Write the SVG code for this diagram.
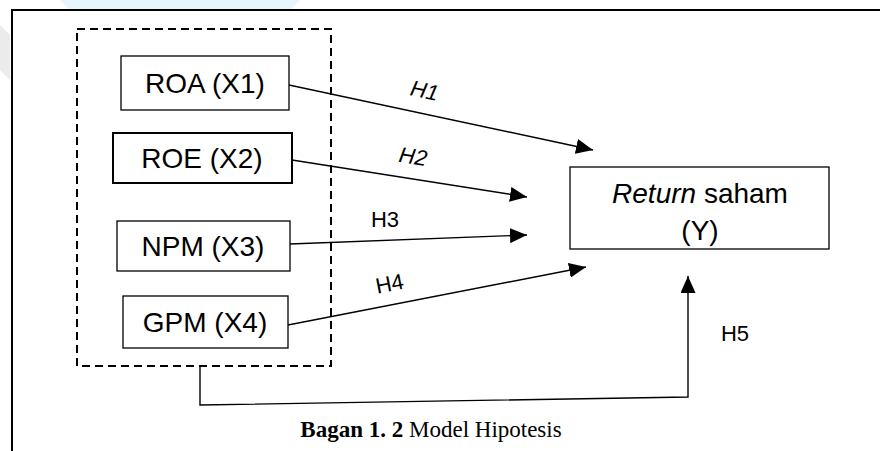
<svg xmlns="http://www.w3.org/2000/svg" width="880" height="451" viewBox="0 0 880 451">
<style>
.box{fill:#fff;stroke:#000;stroke-width:1.3}
.t{font-family:"Liberation Sans",Arial,sans-serif;font-size:28px;fill:#000;text-anchor:middle}
.lbl{font-family:"Liberation Sans",Arial,sans-serif;font-size:22px;fill:#000;text-anchor:middle}
.con{fill:none;stroke:#000;stroke-width:1.4}
.cap{font-family:"Liberation Serif","Times New Roman",serif;font-size:23px;fill:#000;text-anchor:middle}
</style>
<defs>
<marker id="ah" markerUnits="userSpaceOnUse" markerWidth="18" markerHeight="15" refX="17" refY="7.5" orient="auto">
<path d="M0,0 L17,7.5 L0,15 Z" fill="#000"/>
</marker>
</defs>
<rect width="880" height="451" fill="#fff"/>
<g id="watermark" opacity="0.5">
<path d="M60,0 L300,0 L290,10 L70,10 Z" fill="#cfeefa"/>
<path d="M0,25 L10,35 L10,80 L0,70 Z" fill="#d8d8d8"/>
</g>
<g id="frame">
<line x1="11" y1="10" x2="880" y2="10" stroke="#000" stroke-width="2.2"/>
<line x1="12" y1="10" x2="12" y2="451" stroke="#000" stroke-width="2"/>
</g>
<g id="group-x">
<rect x="77" y="29" width="254" height="337" fill="none" stroke="#000" stroke-width="2" stroke-dasharray="8,5"/>
</g>
<g id="roa"><rect class="box" x="121" y="56" width="168" height="54"/><text class="t" x="205" y="93">ROA (X1)</text></g>
<g id="roe"><rect class="box" x="113" y="133" width="179" height="50" style="stroke-width:2"/><text class="t" x="202" y="168">ROE (X2)</text></g>
<g id="npm"><rect class="box" x="117" y="221" width="173" height="50"/><text class="t" x="203" y="256">NPM (X3)</text></g>
<g id="gpm"><rect class="box" x="123" y="296" width="165" height="52"/><text class="t" x="205" y="332">GPM (X4)</text></g>
<g id="return"><rect class="box" x="570" y="167" width="259" height="82"/><text class="t" x="700" y="203"><tspan font-style="italic">Return</tspan> saham</text><text class="t" x="700" y="240">(Y)</text></g>
<g id="connectors">
<line class="con" x1="289" y1="85" x2="593" y2="150" marker-end="url(#ah)"/>
<line class="con" x1="292" y1="160" x2="527" y2="197" marker-end="url(#ah)"/>
<line class="con" x1="290" y1="244" x2="527" y2="235" marker-end="url(#ah)"/>
<line class="con" x1="288" y1="325" x2="586" y2="267" marker-end="url(#ah)"/>
<polyline class="con" points="200,366 200,405 688,397 688,276" marker-end="url(#ah)"/>
<text class="lbl" font-style="italic" transform="translate(423,98) rotate(12)">H1</text>
<text class="lbl" font-style="italic" transform="translate(412,164) rotate(9)">H2</text>
<text class="lbl" x="385" y="227">H3</text>
<text class="lbl" transform="translate(391,291) rotate(-11)">H4</text>
<text class="lbl" x="735" y="341">H5</text>
</g>
<text class="cap" x="431" y="437"><tspan font-weight="bold">Bagan 1. 2</tspan> Model Hipotesis</text>
</svg>
